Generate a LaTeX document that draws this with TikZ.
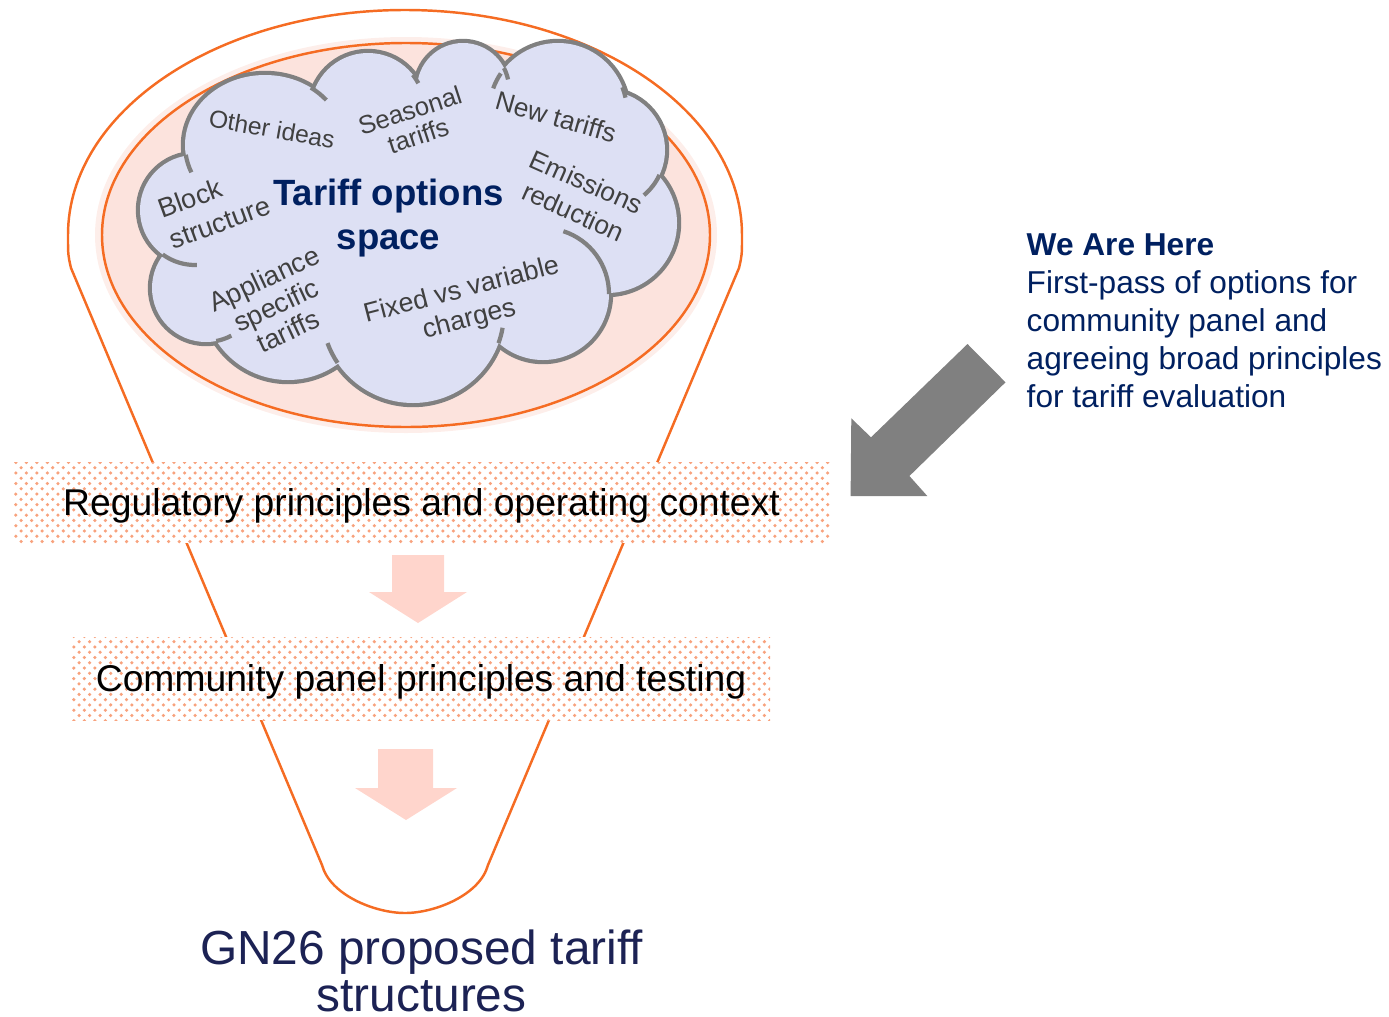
\documentclass[tikz,border=0pt]{standalone}
\usepackage{fontspec}
\setmainfont{Liberation Sans}
\usetikzlibrary{patterns}
\definecolor{funnelorange}{RGB}{245,108,35}
\definecolor{ellpink}{RGB}{252,227,221}
\definecolor{ellglow}{RGB}{253,238,234}
\definecolor{cloudblue}{RGB}{221,224,244}
\definecolor{cloudgrey}{RGB}{128,128,128}
\definecolor{ideagrey}{RGB}{64,64,64}
\definecolor{navy}{RGB}{0,32,96}
\definecolor{gnnavy}{RGB}{28,34,84}
\definecolor{arrowpink}{RGB}{255,213,204}
\definecolor{dotorange}{RGB}{248,162,125}

\begin{document}
\begin{tikzpicture}[
    idea/.style={text=ideagrey, align=center, inner sep=0pt, font=\fontsize{7.5}{8.2}\selectfont},
    band/.style={fill=white, postaction={pattern=crosshatch dots, pattern color=dotorange},
        inner sep=0pt, text height=0.8em, text depth=0.07em, font=\fontsize{10.6}{12.7}\selectfont},
    downarrow/.style={fill=arrowpink},
    funnel/.style={draw=funnelorange, line width=0.7pt}
    ]
\useasboundingbox (0,0) rectangle (13.89,-10.16);

% funnel outline
\draw[funnel] (3.22,-8.65) -- (0.71,-2.68) .. controls (0.68,-2.55) .. (0.68,-2.35)
    arc[start angle=180, end angle=0, x radius=3.37, y radius=2.25]
    .. controls (7.42,-2.55) .. (7.39,-2.68) -- (4.88,-8.65)
    .. controls (4.80,-8.95) and (4.35,-9.13) .. (4.05,-9.13)
    .. controls (3.75,-9.13) and (3.30,-8.95) .. (3.22,-8.65) -- cycle;

% options ellipse
\fill[ellglow] (4.06,-2.35) ellipse [x radius=3.11, y radius=1.98];
\draw[funnel, fill=ellpink] (4.06,-2.35) ellipse [x radius=3.04, y radius=1.92];

% cloud: bumps drawn wide, then filled over
\foreach \cx/\cy/\rx/\ry in {2.65/-1.45/0.80/0.70, 3.68/-1.10/0.57/0.57, 4.63/-0.89/0.46/0.46,
    5.58/-1.12/0.69/0.69, 6.06/-1.50/0.59/0.59, 6.07/-2.23/0.70/0.70, 5.43/-2.94/0.66/0.66,
    4.13/-3.12/0.91/0.91, 2.88/-2.95/0.85/0.85, 2.06/-2.88/0.54/0.54, 1.95/-2.10/0.55/0.55}
  \draw[cloudgrey, line width=2.4pt] (\cx,\cy) ellipse [x radius=\rx, y radius=\ry];
\fill[cloudblue] (2.65,-1.45) -- (3.68,-1.10) -- (4.63,-0.89) -- (5.58,-1.12) -- (6.06,-1.50)
    -- (6.07,-2.23) -- (5.43,-2.94) -- (4.13,-3.12) -- (2.88,-2.95) -- (2.06,-2.88) -- (1.95,-2.10) -- cycle;
\foreach \cx/\cy/\rx/\ry in {2.65/-1.45/0.80/0.70, 3.68/-1.10/0.57/0.57, 4.63/-0.89/0.46/0.46,
    5.58/-1.12/0.69/0.69, 6.06/-1.50/0.59/0.59, 6.07/-2.23/0.70/0.70, 5.43/-2.94/0.66/0.66,
    4.13/-3.12/0.91/0.91, 2.88/-2.95/0.85/0.85, 2.06/-2.88/0.54/0.54, 1.95/-2.10/0.55/0.55}
  \fill[cloudblue] (\cx,\cy) ellipse [x radius=\rx, y radius=\ry];
% inner arcs of the cloud
\foreach \cx/\cy/\rx/\ry/\a/\b in {2.65/-1.45/0.80/0.70/188/203, 2.65/-1.45/0.80/0.70/55/40,
    3.68/-1.10/0.57/0.57/38/28, 4.63/-0.89/0.46/0.46/27/12, 5.58/-1.12/0.69/0.69/146/160,
    5.58/-1.12/0.69/0.69/21/12, 6.06/-1.50/0.59/0.59/-25/-50, 5.43/-2.94/0.66/0.66/0/72,
    4.13/-3.12/0.91/0.91/-20/-10, 4.13/-3.12/0.91/0.91/214/200, 2.06/-2.88/0.54/0.54/-79/-62,
    1.95/-2.10/0.55/0.55/-126/-88}
  \draw[cloudgrey, line width=1.2pt] (\cx,\cy) ++({\rx*cos(\a)},{\ry*sin(\a)})
    arc[start angle=\a, end angle=\b, x radius=\rx, y radius=\ry];

% ideas in the cloud
\node[idea, rotate=-10, font=\fontsize{7}{8}\selectfont] (other) at (2.72,-1.29) {Other ideas};
\node[idea, rotate=18, font=\fontsize{7.3}{7.6}\selectfont] (seasonal) at (4.14,-1.23) {Seasonal\\tariffs};
\node[idea, rotate=-16] (newtariffs) at (5.56,-1.17) {New tariffs};
\node[idea, rotate=-24, font=\fontsize{7.5}{9.2}\selectfont] (emissions) at (5.80,-1.97) {Emissions\\reduction};
\node[idea, rotate=20, align=left, font=\fontsize{7.7}{9.3}\selectfont] (block) at (2.14,-2.07) {Block\\structure};
\node[idea, rotate=25, font=\fontsize{7.7}{8.2}\selectfont] (appliance) at (2.76,-3.05) {Appliance\\specific\\tariffs};
\node[idea, rotate=14.5, font=\fontsize{7.6}{8.6}\selectfont] (fixed) at (4.655,-3.055) {Fixed vs variable\\charges};
\node[text=navy, font=\bfseries\fontsize{10.4}{12.6}\selectfont, align=center, anchor=north, inner sep=0pt]
    (space) at (3.885,-1.78) {Tariff options\\space};

% filter bands
\node[band, minimum width=8.17cm, minimum height=0.81cm] (regulatory) at (4.215,-5.025)
    {Regulatory principles and operating context};
\node[band, minimum width=6.98cm, minimum height=0.83cm] (community) at (4.21,-6.785)
    {Community panel principles and testing};

% arrows down the funnel
\fill[downarrow] (3.92,-5.55) -- (4.44,-5.55) -- (4.44,-5.92) -- (4.67,-5.92) -- (4.18,-6.23)
    -- (3.69,-5.92) -- (3.92,-5.92) -- cycle;
\fill[downarrow] (3.78,-7.49) -- (4.33,-7.49) -- (4.33,-7.88) -- (4.57,-7.88) -- (4.06,-8.20)
    -- (3.55,-7.88) -- (3.78,-7.88) -- cycle;

\node[text=gnnavy, font=\fontsize{13.6}{13.4}\selectfont, align=center, anchor=north, inner sep=0pt]
    (result) at (4.215,-9.29) {GN26 proposed tariff\\structures};

% we are here
\fill[cloudgrey] (9.675,-3.44) -- (10.055,-3.823) -- (9.094,-4.76) -- (9.273,-4.96) -- (8.506,-4.96)
    -- (8.513,-4.183) -- (8.71,-4.373) -- cycle;
\node[text=navy, font=\fontsize{9}{10.8}\selectfont, align=left, anchor=north west, inner sep=0pt]
    (here) at (10.26,-2.33) {\textbf{We Are Here}\\First-pass of options for\\community panel and\\agreeing broad principles\\for tariff evaluation};
\end{tikzpicture}
\end{document}
